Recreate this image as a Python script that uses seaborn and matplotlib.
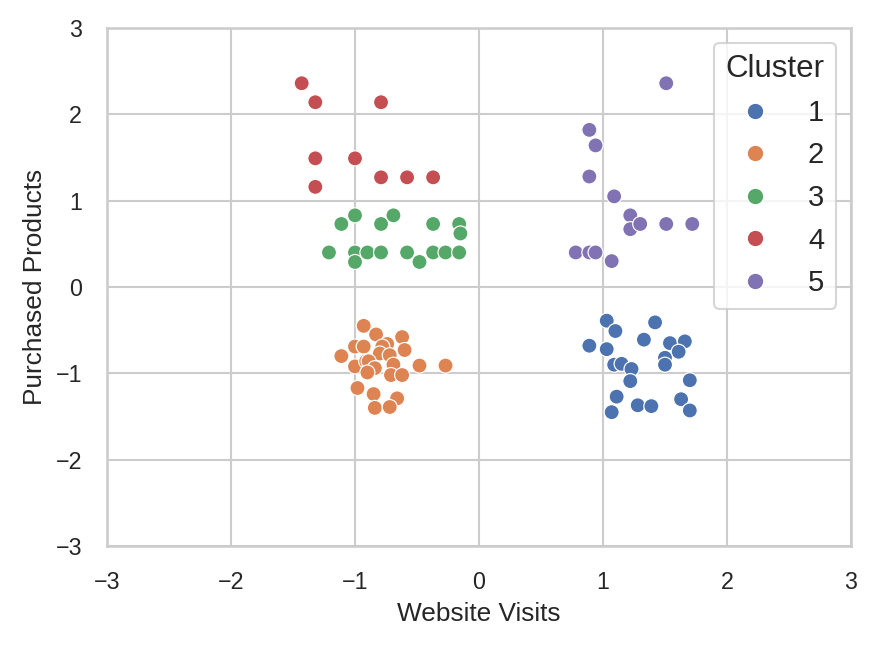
import numpy as np
import pandas as pd
import matplotlib
matplotlib.use("Agg")
import matplotlib.pyplot as plt
import seaborn as sns

sns.set_theme(style="whitegrid", context="notebook")
plt.rcParams['font.family'] = ['Liberation Sans', 'DejaVu Sans']

# standardized values, one pair of lists per cluster
c1_x = [1.03, 1.10, 1.42, 1.33, 0.89, 1.03, 1.54, 1.66, 1.61, 1.50, 1.50,
        1.09, 1.15, 1.23, 1.22, 1.70, 1.11, 1.07, 1.28, 1.39, 1.63, 1.70]
c1_y = [-0.39, -0.51, -0.41, -0.61, -0.68, -0.72, -0.65, -0.63, -0.75, -0.82, -0.90,
        -0.90, -0.89, -0.95, -1.09, -1.08, -1.27, -1.45, -1.37, -1.38, -1.30, -1.43]

c2_x = [-0.93, -0.83, -0.62, -1.00, -0.93, -0.74, -0.78, -0.60, -1.11, -0.80, -0.72,
        -1.00, -0.91, -0.89, -0.84, -0.69, -0.90, -0.71, -0.62, -0.48, -0.27,
        -0.98, -0.85, -0.66, -0.84, -0.72]
c2_y = [-0.45, -0.55, -0.58, -0.69, -0.69, -0.66, -0.69, -0.73, -0.80, -0.77, -0.79,
        -0.92, -0.86, -0.86, -0.94, -0.90, -0.99, -1.02, -1.02, -0.91, -0.91,
        -1.17, -1.24, -1.29, -1.40, -1.39]

c3_x = [-1.00, -1.11, -0.79, -0.69, -0.37, -0.16, -0.15, -1.21, -1.00, -1.00,
        -0.90, -0.79, -0.58, -0.48, -0.37, -0.27, -0.16]
c3_y = [0.83, 0.73, 0.73, 0.83, 0.73, 0.73, 0.62, 0.40, 0.40, 0.29,
        0.40, 0.40, 0.40, 0.29, 0.40, 0.40, 0.40]

c4_x = [-1.43, -1.32, -0.79, -1.32, -1.00, -1.32, -0.79, -0.58, -0.37]
c4_y = [2.36, 2.14, 2.14, 1.49, 1.49, 1.16, 1.27, 1.27, 1.27]

c5_x = [1.51, 0.89, 0.94, 0.89, 1.09, 1.22, 1.22, 1.30, 1.51, 1.72,
        0.78, 0.89, 0.94, 1.07]
c5_y = [2.36, 1.82, 1.64, 1.28, 1.05, 0.83, 0.67, 0.73, 0.73, 0.73,
        0.40, 0.40, 0.40, 0.30]

xs = [c1_x, c2_x, c3_x, c4_x, c5_x]
ys = [c1_y, c2_y, c3_y, c4_y, c5_y]

frames = []
for i, (x, y) in enumerate(zip(xs, ys), start=1):
    frames.append(pd.DataFrame({"Website Visits": x, "Purchased Products": y,
                                "Cluster": i}))
df = pd.concat(frames, ignore_index=True)

fig = plt.figure(figsize=(876 / 150, 647 / 150), dpi=150)
ax = fig.add_axes([107 / 876, 1 - 546 / 647, (851 - 107) / 876, (546 - 28) / 647])
sns.scatterplot(data=df, x="Website Visits", y="Purchased Products",
                hue="Cluster", palette="deep", s=52, ax=ax)
ax.set_xlim(-3, 3)
ax.set_ylim(-3, 3)
ax.set_xlabel("Website Visits", fontsize=12.6)
ax.set_ylabel("Purchased Products", fontsize=12.6)
ax.tick_params(labelsize=11.2, pad=6)
ax.legend(title="Cluster", loc="upper right", fontsize=14, title_fontsize=15,
          markerscale=1.1)

fig.savefig("out.png", dpi=150)
